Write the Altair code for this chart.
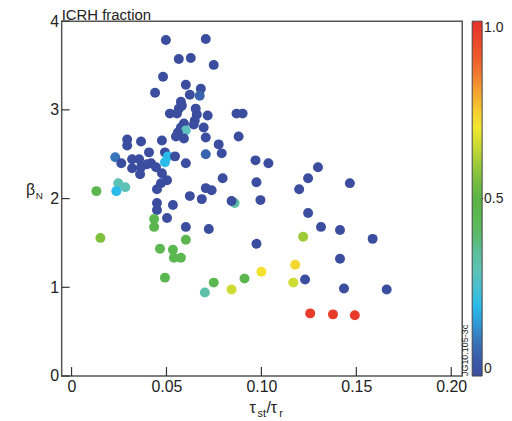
import altair as alt
import pandas as pd

# tau_st / tau_r
tau_ratio = [
    0.0497, 0.0707, 0.0565, 0.0628, 0.0749, 0.0482, 0.0440, 0.0602, 0.0681, 0.0623,
    0.0675, 0.0576, 0.0581, 0.0565, 0.0518, 0.0555, 0.0654, 0.0660, 0.0649, 0.0644,
    0.0717, 0.0869, 0.0901, 0.0592, 0.0576, 0.0602, 0.0560, 0.0550, 0.0592, 0.0696,
    0.0707, 0.0880, 0.0476, 0.0366, 0.0293, 0.0293, 0.0775, 0.0791, 0.0707, 0.0408,
    0.0492, 0.0508, 0.0492, 0.0545, 0.0230, 0.0262, 0.0319, 0.0356, 0.0319, 0.0366,
    0.0361, 0.0398, 0.0419, 0.0445, 0.0602, 0.0476, 0.0503, 0.0471, 0.0450, 0.0796,
    0.0246, 0.0283, 0.0236, 0.0131, 0.0623, 0.0707, 0.0738, 0.0686, 0.0859, 0.0843,
    0.0450, 0.0450, 0.0534, 0.0435, 0.0435, 0.0503, 0.0602, 0.0723, 0.0152, 0.0602,
    0.0466, 0.0534, 0.0539, 0.0576, 0.0492, 0.0749, 0.0702, 0.0843, 0.0969, 0.1037,
    0.1298, 0.1246, 0.1199, 0.1466, 0.0974, 0.0995, 0.1246, 0.1314, 0.1414, 0.1586,
    0.0974, 0.1220, 0.1414, 0.1178, 0.1000, 0.0911, 0.1168, 0.1230, 0.1435, 0.1660,
    0.1257, 0.1377, 0.1492,
]
# beta_N
beta_n = [
    3.787, 3.798, 3.574, 3.585, 3.507, 3.373, 3.193, 3.283, 3.238, 3.171,
    3.160, 3.092, 3.048, 3.014, 2.958, 2.958, 3.014, 2.947, 2.880, 2.835,
    2.936, 2.958, 2.958, 2.846, 2.801, 2.767, 2.745, 2.700, 2.678, 2.801,
    2.689, 2.700, 2.655, 2.644, 2.667, 2.599, 2.611, 2.510, 2.499, 2.521,
    2.521, 2.476, 2.409, 2.476, 2.465, 2.398, 2.443, 2.443, 2.342, 2.353,
    2.275, 2.387, 2.398, 2.353, 2.398, 2.286, 2.207, 2.174, 2.106, 2.230,
    2.174, 2.129, 2.084, 2.084, 2.028, 2.118, 2.095, 1.994, 1.950, 1.972,
    1.950, 1.871, 1.927, 1.770, 1.681, 1.782, 1.681, 1.658, 1.557, 1.535,
    1.434, 1.423, 1.333, 1.333, 1.109, 1.053, 0.941, 0.975, 2.431, 2.398,
    2.353, 2.230, 2.106, 2.174, 2.185, 1.983, 1.838, 1.681, 1.647, 1.546,
    1.490, 1.569, 1.322, 1.255, 1.176, 1.098, 1.053, 1.087, 0.986, 0.975,
    0.706, 0.695, 0.684,
]
# ICRH fraction
icrh = [
    0.0, 0.0, 0.0, 0.0, 0.0, 0.0, 0.0, 0.0, 0.0, 0.0,
    0.07, 0.0, 0.0, 0.0, 0.0, 0.0, 0.0, 0.0, 0.0, 0.0,
    0.0, 0.0, 0.0, 0.0, 0.0, 0.28, 0.0, 0.0, 0.0, 0.0,
    0.0, 0.0, 0.0, 0.0, 0.0, 0.0, 0.0, 0.0, 0.07, 0.0,
    0.0, 0.2, 0.2, 0.0, 0.1, 0.0, 0.0, 0.0, 0.0, 0.0,
    0.0, 0.0, 0.0, 0.0, 0.0, 0.0, 0.0, 0.0, 0.0, 0.0,
    0.3, 0.3, 0.2, 0.47, 0.0, 0.0, 0.0, 0.0, 0.33, 0.0,
    0.0, 0.0, 0.0, 0.45, 0.47, 0.0, 0.0, 0.0, 0.56, 0.47,
    0.45, 0.45, 0.45, 0.45, 0.45, 0.46, 0.32, 0.65, 0.0, 0.0,
    0.0, 0.0, 0.0, 0.0, 0.0, 0.0, 0.0, 0.0, 0.0, 0.0,
    0.0, 0.6, 0.0, 0.73, 0.71, 0.46, 0.65, 0.0, 0.0, 0.0,
    0.97, 0.97, 0.97,
]

x_ticks = [0, 0.05, 0.10, 0.15, 0.20]
y_ticks = [0, 1, 2, 3, 4]
bar_ticks = [0, 0.5, 1.0]

cmap_stops = [0.0, 0.08, 0.15, 0.2, 0.28, 0.35, 0.42, 0.5, 0.58, 0.64, 0.7, 0.76, 0.82, 0.9, 1.0]
cmap_colors = ["#3b4d9e", "#3a66b0", "#2f9ad8", "#2bbbea", "#5ec3c0", "#5cbf9a", "#5cb856",
               "#5ab447", "#8cc43c", "#c5d832", "#f2e830", "#f7c531", "#f39030", "#ee5a2c", "#e52f2a"]

W, H = 403, 357
FONT = "Liberation Sans"

df = pd.DataFrame({"x": tau_ratio, "y": beta_n, "f": icrh})
xt = pd.DataFrame({"v": x_ticks})
yt = pd.DataFrame({"v": y_ticks})

xscale = alt.Scale(domain=[-0.0052, 0.2058], nice=False, zero=False)
yscale = alt.Scale(domain=[0, 4], nice=False, zero=False)

points = alt.Chart(df).mark_circle(size=100, opacity=1).encode(
    x=alt.X("x:Q", scale=xscale,
            axis=alt.Axis(values=x_ticks, ticks=False, grid=False, domain=False,
                          labelFontSize=16, labelPadding=3, labelColor="#222", labelFont=FONT,
                          labelExpr="datum.value == 0 ? '0' : format(datum.value, '.2f')",
                          title=None)),
    y=alt.Y("y:Q", scale=yscale,
            axis=alt.Axis(values=y_ticks, ticks=False, grid=False, domain=False,
                          labelFontSize=16, labelPadding=3, labelColor="#222", labelFont=FONT,
                          format="d", title=None)),
    color=alt.Color("f:Q",
                    scale=alt.Scale(domain=cmap_stops, range=cmap_colors, interpolate="rgb"),
                    legend=alt.Legend(orient="none", legendX=413, legendY=0, direction="vertical",
                                      gradientLength=H, gradientThickness=10,
                                      gradientStrokeColor="#444", gradientStrokeWidth=1,
                                      values=bar_ticks, labelFontSize=14, labelFont=FONT,
                                      labelColor="#222", labelOffset=2, labelBaseline="middle",
                                      labelExpr="datum.value == 0 ? '0' : format(datum.value, '.1f')",
                                      title=None)),
)

xtick_rules = alt.Chart(xt).mark_rule(color="#333", strokeWidth=1.2).encode(
    x=alt.X("v:Q", scale=xscale), y=alt.value(H), y2=alt.value(H - 9))
ytick_rules = alt.Chart(yt).mark_rule(color="#333", strokeWidth=1.2).encode(
    y=alt.Y("v:Q", scale=yscale), x=alt.value(0), x2=alt.value(8))

bar_tick = alt.Chart(pd.DataFrame({"v": [0.5]})).mark_rule(color="#333", strokeWidth=1.2).encode(
    x=alt.value(418), x2=alt.value(424), y=alt.value(H / 2))

def txt(s, x, y, size=16, **kw):
    return alt.Chart(pd.DataFrame({"t": [s]})).mark_text(
        font=FONT, fontSize=size, color="#222", align="left", baseline="alphabetic", **kw
    ).encode(text="t:N", x=alt.value(x), y=alt.value(y))

title = txt("ICRH fraction", 0, -1, size=15)
ytitle_a = txt("β", -36, 175)
ytitle_b = txt("N", -26, 179, size=10)
xt1 = txt("τ", 189, 394)
xt2 = txt("st", 197, 398, size=11)
xt3 = txt("/τ", 206, 394)
xt4 = txt("r", 219, 398, size=11)
code = txt("JG10.105-3c", 409, H, size=9, angle=270)

chart = alt.layer(
    points, xtick_rules, ytick_rules, bar_tick, title, ytitle_a, ytitle_b,
    xt1, xt2, xt3, xt4, code
).properties(
    width=W, height=H,
    autosize=alt.AutoSizeParams(type="none"),
    padding={"left": 54, "top": 12, "right": 42, "bottom": 42},
).configure_view(stroke="#555", strokeWidth=1.5)

chart.save("out.html", embed_options={"renderer": "svg", "actions": False})
